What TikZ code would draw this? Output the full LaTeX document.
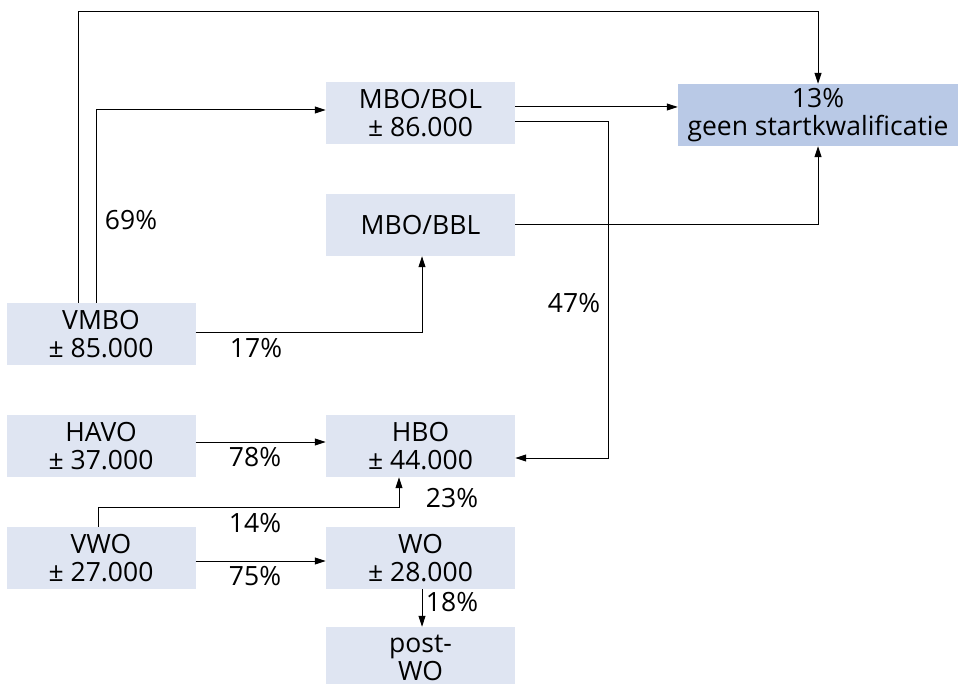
\documentclass[tikz,border=0pt]{standalone}
\usepackage{fontspec}
\setmainfont{Open Sans}
\usepackage{xcolor}
\usetikzlibrary{arrows.meta}
\definecolor{boxblue}{RGB}{223,229,242}
\definecolor{geenblue}{RGB}{185,201,230}

\begin{document}
\begin{tikzpicture}[x=1pt,y=-1pt,
	every node/.style={font=\fontsize{26.5}{28}\selectfont},
	level/.style={fill=boxblue,minimum width=189pt,minimum height=62pt,inner sep=0pt,align=center},
	pct/.style={inner sep=0pt},
	arr/.style={line width=1pt,-{Triangle[length=11pt,width=7pt]}}]
	\useasboundingbox (0,0) rectangle (958,684);
	% schooltypes
	\node[level] (vmbo) at (101,334) {VMBO\\± 85.000};
	\node[level] (havo) at (101,446) {HAVO\\± 37.000};
	\node[level] (vwo) at (101,558) {VWO\\± 27.000};
	% vervolgopleidingen
	\node[level] (bol) at (420.5,113) {MBO/BOL\\± 86.000};
	\node[level] (bbl) at (420.5,225) {MBO/BBL};
	\node[level] (hbo) at (420.5,446) {HBO\\± 44.000};
	\node[level] (wo) at (420.5,558) {WO\\± 28.000};
	\node[level] (postwo) at (420.5,658) {post-\\WO};
	\node[level,fill=geenblue,minimum width=280pt] (geen) at (818,115) {13\%\\geen startkwalificatie};
	% stromen
	\draw[arr] ([xshift=-23pt]vmbo.north) -- ++(0,-291) -| (geen.north);
	\draw[arr] ([xshift=-5pt]vmbo.north) |- ([yshift=3pt]bol.west);
	\draw[arr] ([yshift=1pt]vmbo.east) -| ([xshift=1.5pt]bbl.south);
	\draw[arr] ([yshift=6pt]bol.east) -- ([yshift=8pt]geen.west);
	\draw[arr] ([yshift=-9pt]bol.east) -- ++(93,0) |- ([yshift=-12pt]hbo.east);
	\draw[arr] (bbl.east) -| (geen.south);
	\draw[arr] ([yshift=4pt]havo.east) -- ([yshift=4pt]hbo.west);
	\draw[arr] ([xshift=-3pt]vwo.north) -- ++(0,-19) -| ([xshift=-21.5pt]hbo.south);
	\draw[arr] ([yshift=-3pt]vwo.east) -- ([yshift=-3pt]wo.west);
	\draw[arr] ([xshift=1.5pt]wo.south) -- ([xshift=1.5pt]postwo.north);
	% percentages
	\node[pct] (p69) at (131,220) {69\%};
	\node[pct] (p17) at (256,348) {17\%};
	\node[pct] (p47) at (574,303) {47\%};
	\node[pct] (p78) at (255,457) {78\%};
	\node[pct] (p23) at (452,498) {23\%};
	\node[pct] (p14) at (255,523) {14\%};
	\node[pct] (p75) at (255,576) {75\%};
	\node[pct] (p18) at (452,602) {18\%};
\end{tikzpicture}
\end{document}
